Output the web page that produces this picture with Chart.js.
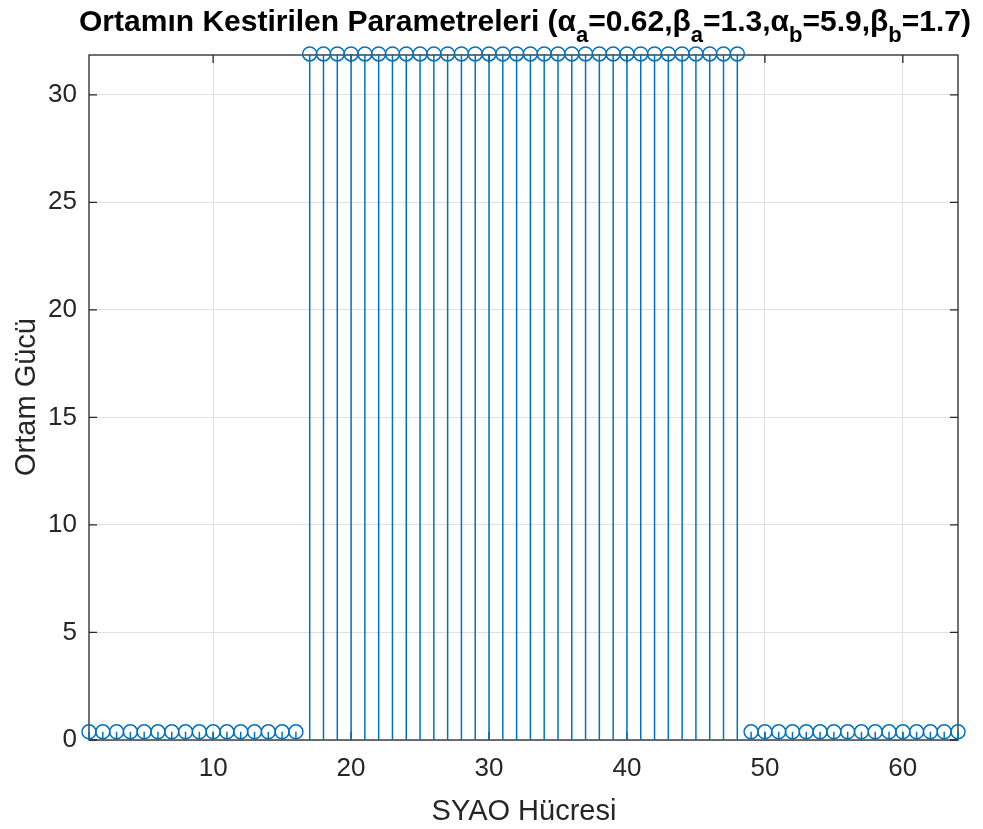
<!DOCTYPE html>
<html>
<head>
<meta charset="utf-8">
<script src="https://cdn.jsdelivr.net/npm/chart.js@4.4.1/dist/chart.umd.min.js"></script>
<style>
    html, body { margin: 0; padding: 0; background: #ffffff; }
    #kutu { width: 983px; height: 829px; position: relative; }
</style>
</head>
<body>
<div id="kutu"><canvas id="grafik"></canvas></div>
<script>
// 🔹 Veriler
const hucreler = [
    1, 2, 3, 4, 5, 6, 7, 8, 9, 10, 11, 12, 13, 14, 15, 16,
    17, 18, 19, 20, 21, 22, 23, 24, 25, 26, 27, 28, 29, 30, 31, 32,
    33, 34, 35, 36, 37, 38, 39, 40, 41, 42, 43, 44, 45, 46, 47, 48,
    49, 50, 51, 52, 53, 54, 55, 56, 57, 58, 59, 60, 61, 62, 63, 64
];
const ortamGucu = [
    0.38, 0.38, 0.38, 0.38, 0.38, 0.38, 0.38, 0.38, 0.38, 0.38, 0.38, 0.38, 0.38, 0.38, 0.38, 0.38,
    31.9, 31.9, 31.9, 31.9, 31.9, 31.9, 31.9, 31.9, 31.9, 31.9, 31.9, 31.9, 31.9, 31.9, 31.9, 31.9,
    31.9, 31.9, 31.9, 31.9, 31.9, 31.9, 31.9, 31.9, 31.9, 31.9, 31.9, 31.9, 31.9, 31.9, 31.9, 31.9,
    0.38, 0.38, 0.38, 0.38, 0.38, 0.38, 0.38, 0.38, 0.38, 0.38, 0.38, 0.38, 0.38, 0.38, 0.38, 0.38
];
const xTikler = [10, 20, 30, 40, 50, 60];
const yTikler = [0, 5, 10, 15, 20, 25, 30];
const xSinir = [1, 64];
const ySinir = [0, 31.85];

// başlık parçaları: [metin, alt simge mi]
const baslikParcalari = [
    ['Ortamın Kestirilen Parametreleri (α', false], ['a', true],
    ['=0.62,β', false], ['a', true],
    ['=1.3,α', false], ['b', true],
    ['=5.9,β', false], ['b', true],
    ['=1.7)', false]
];
const xBaslik = 'SYAO Hücresi';
const yBaslik = 'Ortam Gücü';

const MAVI = '#0072BD';
const YAZI = '#262626';
const FONT = '"Liberation Sans", Arial, Helvetica, sans-serif';

// 🔹 Gövde çizgileri (stem)
const govdeEklentisi = {
    id: 'govde',
    beforeDatasetsDraw(chart) {
        const ctx = chart.ctx;
        const x = chart.scales.x;
        const y = chart.scales.y;
        const y0 = y.getPixelForValue(0);
        ctx.save();
        ctx.strokeStyle = MAVI;
        ctx.lineWidth = 1.5;
        hucreler.forEach((h, i) => {
            const px = x.getPixelForValue(h);
            ctx.beginPath();
            ctx.moveTo(px, y0);
            ctx.lineTo(px, y.getPixelForValue(ortamGucu[i]));
            ctx.stroke();
        });
        ctx.restore();
    }
};

// 🔹 Çerçeve, içe dönük tikler ve yazılar
const cerceveEklentisi = {
    id: 'cerceve',
    beforeDatasetsDraw(chart) {
        const ctx = chart.ctx;
        const a = chart.chartArea;
        const x = chart.scales.x;
        const y = chart.scales.y;
        const tik = 8;
        ctx.save();
        ctx.strokeStyle = YAZI;
        ctx.lineWidth = 1.3;
        ctx.strokeRect(a.left, a.top, a.right - a.left, a.bottom - a.top);
        ctx.beginPath();
        xTikler.forEach(v => {
            const px = x.getPixelForValue(v);
            ctx.moveTo(px, a.bottom); ctx.lineTo(px, a.bottom - tik);
            ctx.moveTo(px, a.top); ctx.lineTo(px, a.top + tik);
        });
        yTikler.forEach(v => {
            const py = y.getPixelForValue(v);
            ctx.moveTo(a.left, py); ctx.lineTo(a.left + tik, py);
            ctx.moveTo(a.right, py); ctx.lineTo(a.right - tik, py);
        });
        ctx.stroke();
        ctx.restore();
    },
    afterDraw(chart) {
        const ctx = chart.ctx;
        ctx.save();
        ctx.fillStyle = YAZI;

        // eksen başlıkları
        ctx.font = '29px ' + FONT;
        ctx.textAlign = 'center';
        ctx.textBaseline = 'alphabetic';
        ctx.fillText(xBaslik, 524, 820);

        ctx.translate(35, 397);
        ctx.rotate(-Math.PI / 2);
        ctx.fillText(yBaslik, 0, 0);
        ctx.setTransform(1, 0, 0, 1, 0, 0);

        // başlık (alt simgeli)
        ctx.fillStyle = '#000000';
        ctx.textAlign = 'left';
        const anaFont = 'bold 30px ' + FONT;
        const altFont = 'bold 22px ' + FONT;
        let toplam = 0;
        baslikParcalari.forEach(([m, alt]) => {
            ctx.font = alt ? altFont : anaFont;
            toplam += ctx.measureText(m).width;
        });
        let px = 525 - toplam / 2;
        baslikParcalari.forEach(([m, alt]) => {
            ctx.font = alt ? altFont : anaFont;
            ctx.fillText(m, px, alt ? 42 : 31);
            px += ctx.measureText(m).width;
        });
        ctx.restore();
    }
};

const ctx = document.getElementById('grafik').getContext('2d');

new Chart(ctx, {
    type: 'scatter',
    data: {
        datasets: [{
            data: hucreler.map((h, i) => ({ x: h, y: ortamGucu[i] })),
            showLine: false,
            pointStyle: 'circle',
            pointRadius: 7,
            pointBorderWidth: 1.5,
            pointBorderColor: MAVI,
            pointBackgroundColor: 'rgba(0,0,0,0)',
            clip: false
        }]
    },
    options: {
        responsive: true,
        maintainAspectRatio: false,
        animation: false,
        devicePixelRatio: 1,
        layout: { padding: { left: 0, top: 55, right: 25, bottom: 0 } },
        plugins: {
            legend: { display: false },
            tooltip: { enabled: false },
            title: { display: false }
        },
        scales: {
            x: {
                type: 'linear',
                min: xSinir[0],
                max: xSinir[1],
                afterBuildTicks: s => { s.ticks = xTikler.map(v => ({ value: v })); },
                afterFit: s => { s.height = 89; },
                grid: { color: '#e0e0e0', lineWidth: 1, drawTicks: false },
                border: { display: false },
                ticks: {
                    color: YAZI,
                    padding: 13,
                    maxRotation: 0,
                    font: { family: FONT, size: 26 }
                }
            },
            y: {
                type: 'linear',
                min: ySinir[0],
                max: ySinir[1],
                afterBuildTicks: s => { s.ticks = yTikler.map(v => ({ value: v })); },
                afterFit: s => { s.width = 89; },
                grid: { color: '#e0e0e0', lineWidth: 1, drawTicks: false },
                border: { display: false },
                ticks: {
                    color: YAZI,
                    padding: 12,
                    font: { family: FONT, size: 26 }
                }
            }
        }
    },
    plugins: [cerceveEklentisi, govdeEklentisi]
});
</script>
</body>
</html>
